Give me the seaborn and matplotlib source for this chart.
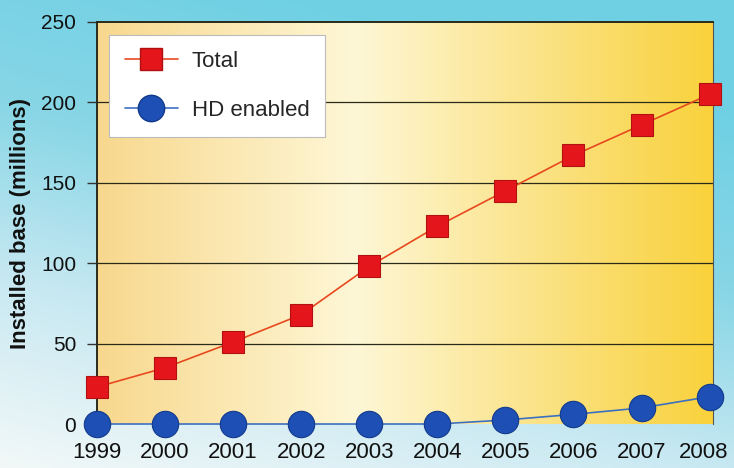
import numpy as np
import pandas as pd
import matplotlib.pyplot as plt
import seaborn as sns
from matplotlib.colors import LinearSegmentedColormap
from matplotlib.lines import Line2D
from matplotlib.transforms import ScaledTranslation

years = [1999, 2000, 2001, 2002, 2003, 2004, 2005, 2006, 2007, 2008]
total = [23, 35, 51, 68, 98, 123, 145, 167, 186, 205]
hd_enabled = [0, 0, 0, 0, 0, 0, 2.5, 6, 10, 17]
y_ticks = [0, 50, 100, 150, 200, 250]

sns.set_theme(style='white')
plt.rcParams['font.family'] = ['Liberation Sans', 'DejaVu Sans']

df = pd.DataFrame({'year': years, 'Total': total, 'HD enabled': hd_enabled})

fig = plt.figure(figsize=(7.34, 4.68), dpi=100)

# figure background: cyan gradient
bg = fig.add_axes([0, 0, 1, 1], zorder=-10)
bg_cmap = LinearSegmentedColormap.from_list('bg', ['#f2f8f8', '#c9e9f2', '#88d6e6', '#6fd0e4'])
yy = np.linspace(0, 1, 200)[:, None]
xx = np.linspace(0, 1, 200)[None, :]
grad = np.clip(yy * 0.85 + xx * 0.35, 0, 1)
bg.imshow(grad, cmap=bg_cmap, aspect='auto', origin='lower', extent=[0, 1, 0, 1])
bg.set_axis_off()

ax = fig.add_axes([0.1322, 0.094, 0.8392, 0.859])

# plot area gradient: tan -> cream -> golden yellow
pa_cmap = LinearSegmentedColormap.from_list(
    'pa', [(0, '#f8d88e'), (0.42, '#fef7d6'), (0.7, '#fbe48c'), (1, '#f9d23c')])
ax.imshow(np.linspace(0, 1, 300)[None, :], cmap=pa_cmap, aspect='auto',
          extent=[1999, 2008.05, 0, 250], zorder=0)

for t in y_ticks[1:-1]:
    ax.axhline(t, color='#2a2a1a', lw=0.9, zorder=1)

sns.lineplot(data=df, x='year', y='Total', ax=ax, color='#e8481e', lw=1.2,
             marker='s', markersize=16, markerfacecolor='#e4161c',
             markeredgecolor='#b01010', markeredgewidth=0.8, zorder=3,
             clip_on=False)
sns.lineplot(data=df, x='year', y='HD enabled', ax=ax, color='#3c70c0', lw=1.2,
             marker='o', markersize=19, markerfacecolor='#1d4fb4',
             markeredgecolor='#123a8c', markeredgewidth=0.8, zorder=4,
             clip_on=False)

ax.set_xlim(1999, 2008.05)
ax.set_ylim(0, 250)
ax.set_xticks(years)
ax.set_xticklabels([str(y) for y in years], fontsize=16, color='#111111')
ax.set_yticks(y_ticks)
ax.set_yticklabels([str(t) for t in y_ticks], fontsize=15, color='#111111')
ax.tick_params(axis='x', length=0, pad=13)
ax.tick_params(axis='y', length=7, width=1, color='#333333', pad=8, left=True)
# keep the last year label inside the figure
last = ax.get_xticklabels()[-1]
last.set_transform(last.get_transform() + ScaledTranslation(-4 / 72, 0, fig.dpi_scale_trans))
ax.set_xlabel('')
ax.set_ylabel('Installed base (millions)', fontsize=16, fontweight='bold',
              color='#111111', labelpad=7)

for side in ['top', 'left']:
    ax.spines[side].set_color('#2a2a1a')
    ax.spines[side].set_linewidth(1.4)
ax.spines['right'].set_color('#555555')
ax.spines['right'].set_linewidth(0.8)
ax.spines['bottom'].set_visible(False)

handles = [
    Line2D([], [], color='#e8481e', lw=1.2, marker='s', markersize=16,
           markerfacecolor='#e4161c', markeredgecolor='#b01010'),
    Line2D([], [], color='#3c70c0', lw=1.2, marker='o', markersize=19,
           markerfacecolor='#1d4fb4', markeredgecolor='#123a8c'),
]
leg = ax.legend(handles, ['Total', 'HD enabled'], loc='upper left',
                bbox_to_anchor=(0.02, 0.968), borderaxespad=0, fontsize=16,
                frameon=True, fancybox=False, framealpha=1, edgecolor='#bbbbbb',
                handlelength=2.35, handletextpad=0.63, labelspacing=1.25,
                borderpad=0.72)
leg.get_frame().set_linewidth(0.8)
leg.set_zorder(10)

fig.savefig('out.png', dpi=100)
